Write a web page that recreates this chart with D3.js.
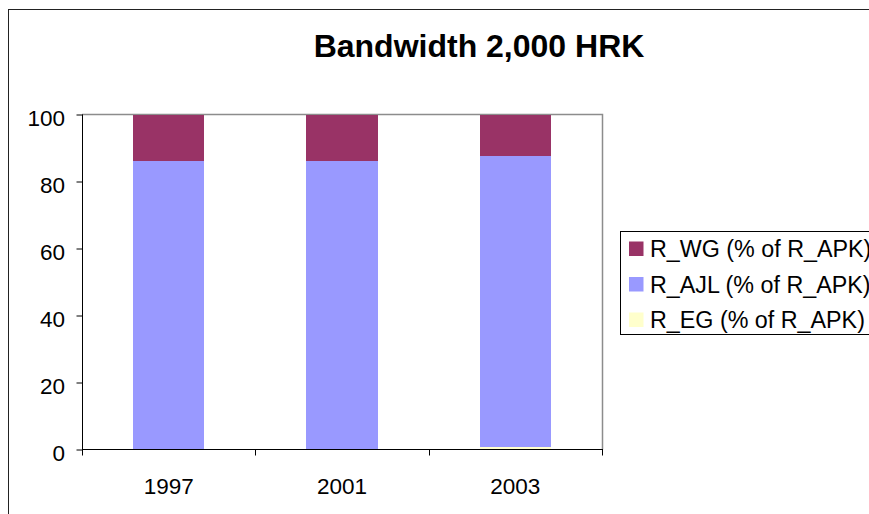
<!DOCTYPE html>
<html>
<head>
<meta charset="utf-8">
<script src="https://cdn.jsdelivr.net/npm/d3@7/dist/d3.min.js"></script>
<style>
  html, body { margin: 0; padding: 0; background: #fff; }
  svg { display: block; font-family: "Liberation Sans", Arial, sans-serif; }
</style>
</head>
<body>
<svg id="chart" width="869" height="514"></svg>
<script>
// Stacked percentage columns: shares of R_APK by year
const years = ["1997", "2001", "2003"];
const seriesNames = ["R_EG (% of R_APK)", "R_AJL (% of R_APK)", "R_WG (% of R_APK)"];
const egValues  = [0.0, 0.0, 0.8];
const ajlValues = [86.2, 86.2, 86.9];
const wgValues  = [13.8, 13.8, 12.3];
const yTicks = [0, 20, 40, 60, 80, 100];
const colors = ["#FFFFCC", "#9999FF", "#993366"];
const legendOrder = [2, 1, 0]; // top-most series listed first

const rows = years.map((y, i) => ({ year: y, EG: egValues[i], AJL: ajlValues[i], WG: wgValues[i] }));
const keys = ["EG", "AJL", "WG"];
const stacked = d3.stack().keys(keys)(rows);

const svg = d3.select("#chart");
const labelSize = "22.5px";
const legendSize = "23.3px";

// outer chart frame (runs off the right and bottom edges)
svg.append("rect")
  .attr("x", 8.5).attr("y", 9.5)
  .attr("width", 900).attr("height", 560)
  .attr("fill", "#fff").attr("stroke", "#222").attr("stroke-width", 1);

const plot = { left: 82, right: 602, top: 114.5, bottom: 449.5 };

const x = d3.scaleBand().domain(years)
  .range([plot.left, plot.right])
  .paddingInner(0.59).paddingOuter(0.295);
const y = d3.scaleLinear().domain([0, 100]).range([plot.bottom, plot.top]);

// plot area outline (top and right in grey)
svg.append("path")
  .attr("d", `M${plot.left},${plot.top}H${plot.right + 0.5}V${plot.bottom}`)
  .attr("fill", "none").attr("stroke", "#8c8c8c").attr("stroke-width", 1.5);

// bars
svg.append("g").selectAll("g")
  .data(stacked).join("g")
  .attr("fill", (d, i) => colors[i])
  .selectAll("rect")
  .data(d => d).join("rect")
  .attr("shape-rendering", "crispEdges")
  .attr("x", d => x(d.data.year))
  .attr("width", x.bandwidth())
  .attr("y", d => y(d[1]))
  .attr("height", d => y(d[0]) - y(d[1]));

// y axis
const yAxis = svg.append("g")
  .attr("transform", `translate(${plot.left},0)`)
  .call(d3.axisLeft(y).tickValues(yTicks).tickSize(6).tickPadding(11).tickFormat(d3.format("d")));
yAxis.select(".domain").attr("stroke", "#000").attr("d", `M0.5,${plot.top}V${plot.bottom}`);
yAxis.selectAll(".tick line").attr("stroke", "#000").attr("x2", -6).attr("transform", "translate(0.5,0)");
yAxis.selectAll(".tick text")
  .attr("font-family", "Liberation Sans, Arial, sans-serif")
  .attr("font-size", labelSize).attr("fill", "#000").attr("dy", "0.48em");

// x axis line and category boundary ticks
const xAxis = svg.append("g");
xAxis.append("line")
  .attr("x1", plot.left).attr("x2", plot.right + 1)
  .attr("y1", plot.bottom).attr("y2", plot.bottom)
  .attr("stroke", "#000");
const gap = x.step() * x.paddingInner() / 2;
const bounds = years.map(d => x(d) - gap).concat([x(years[years.length - 1]) + x.bandwidth() + gap]);
xAxis.selectAll("line.bound").data(bounds).join("line")
  .attr("class", "bound")
  .attr("x1", d => Math.round(d) + 0.5).attr("x2", d => Math.round(d) + 0.5)
  .attr("y1", plot.bottom).attr("y2", plot.bottom + 6)
  .attr("stroke", "#000");
xAxis.selectAll("text").data(years).join("text")
  .attr("x", d => x(d) + x.bandwidth() / 2)
  .attr("y", plot.bottom + 44)
  .attr("text-anchor", "middle")
  .attr("font-size", labelSize).attr("fill", "#000")
  .text(d => d);

// title
svg.append("text")
  .attr("x", 479).attr("y", 57)
  .attr("text-anchor", "middle")
  .attr("font-size", "32px").attr("font-weight", "bold").attr("fill", "#000")
  .text("Bandwidth 2,000 HRK");

// legend
const legend = svg.append("g");
legend.append("rect")
  .attr("x", 620.5).attr("y", 231.5)
  .attr("width", 300).attr("height", 103)
  .attr("fill", "#fff").attr("stroke", "#000");
const item = legend.selectAll("g.item").data(legendOrder).join("g")
  .attr("class", "item")
  .attr("transform", (d, i) => `translate(0,${257 + i * 35.5})`);
item.append("rect")
  .attr("x", 629).attr("y", -15.5)
  .attr("width", 14.5).attr("height", 14.5)
  .attr("fill", d => colors[d]);
item.append("text")
  .attr("x", 650).attr("y", 0)
  .attr("font-size", legendSize).attr("fill", "#000")
  .text(d => seriesNames[d]);
</script>
</body>
</html>
